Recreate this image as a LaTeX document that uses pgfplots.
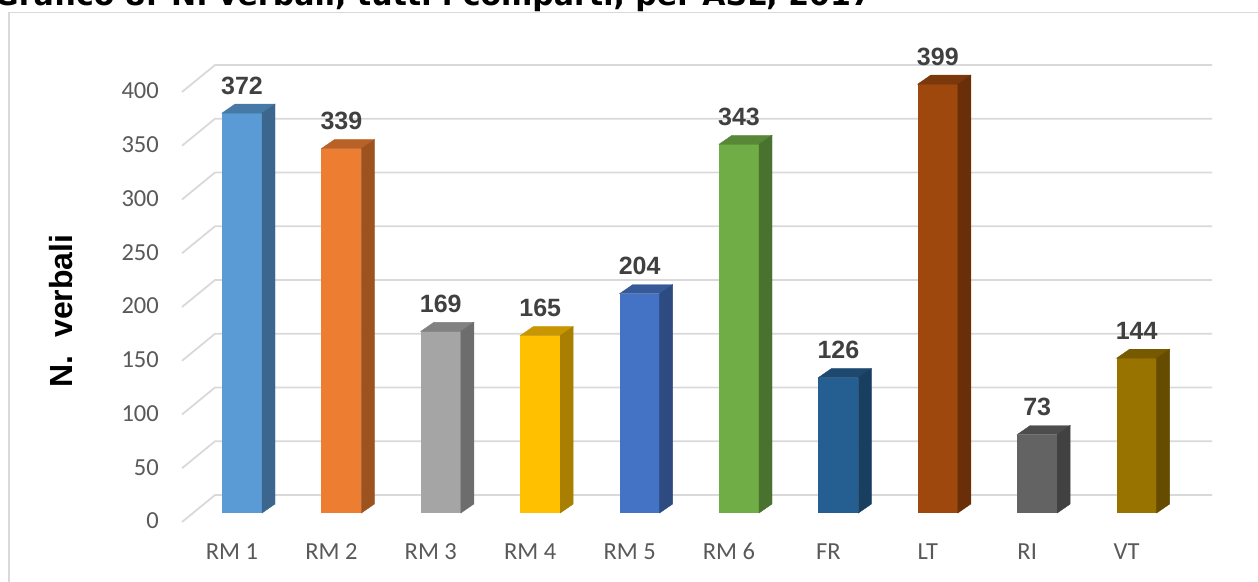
\documentclass[border=0pt]{standalone}
\usepackage{fontspec}
\setmainfont{Carlito}
\newfontfamily\lsans{Liberation Sans}
\newfontfamily\dejavu{DejaVu Sans}
\usepackage{pgfplots}
\pgfplotsset{compat=1.18}
\definecolor{gridc}{HTML}{D9D9D9}
\definecolor{tickc}{HTML}{595959}
\definecolor{labc}{HTML}{404040}
\definecolor{cA}{HTML}{5B9BD5}
\definecolor{cB}{HTML}{ED7D31}
\definecolor{cC}{HTML}{A5A5A5}
\definecolor{cD}{HTML}{FFC000}
\definecolor{cE}{HTML}{4472C4}
\definecolor{cF}{HTML}{70AD47}
\definecolor{cG}{HTML}{255E91}
\definecolor{cH}{HTML}{9E480E}
\definecolor{cI}{HTML}{636363}
\definecolor{cJ}{HTML}{997300}

\newcommand{\threedbar}[3]{%
  \addplot[scatter, only marks, mark=*, mark size=0pt,
    visualization depends on={rawy \as \barv},
    scatter/@pre marker code/.code={%
      \pgfmathsetmacro\hh{1.075*\barv}%
      \fill[#3!78!black] (-20pt,0pt) -- (20pt,0pt) -- (33pt,9pt) -- (-7pt,9pt) -- cycle;
      \fill[#3!66!black] (20pt,0pt) -- (33pt,9pt) -- (33pt,9pt-\hh pt) -- (20pt,-\hh pt) -- cycle;
      \begin{scope}[draw=none,fill=none]},
    scatter/@post marker code/.code={\end{scope}}]
    coordinates {(#1,#2)};
  \addplot[ybar, bar width=40pt, bar shift=0pt, fill=#3, draw=none,
    nodes near coords,
    every node near coord/.append style={font=\lsans\bfseries\fontsize{25}{28}\selectfont,
      text=labc, anchor=base, inner sep=0pt, yshift=19pt}]
    coordinates {(#1,#2)};
}

\begin{document}
\begin{tikzpicture}
\useasboundingbox (0pt,0pt) rectangle (1258pt,-581pt);
% chart frame
\draw[gridc, line width=1.5pt] (9pt,-12.5pt) rectangle (1275pt,-600pt);
% title (cut at the top as in the original)
\node[anchor=base west, inner sep=0pt, font=\dejavu\bfseries\fontsize{30}{33}\selectfont]
  at (-6pt,-5pt) {Grafico 8. N. verbali, tutti i comparti, per ASL, 2017};
% 3D back-wall gridlines
\foreach \v in {0,50,...,400} {
  \pgfmathsetmacro\yb{-495+1.075*\v}
  \pgfmathsetmacro\yf{-522+1.075*\v}
  \draw[gridc, line width=1.8pt] (182pt,\yf pt) -- (215pt,\yb pt) -- (1212pt,\yb pt);
}
% axis title
\node[rotate=90, font=\lsans\bfseries\fontsize{32}{36}\selectfont] at (61pt,-311pt) {N.\ \ verbali};
\begin{axis}[
  at={(242pt,-513pt)}, anchor=origin,
  x=99.4pt, y=1.075pt,
  xmin=-0.6036, xmax=9.43, ymin=0, ymax=400,
  clip=false,
  axis line style={draw=none},
  major tick length=0pt,
  ytick={0,50,...,400},
  xtick={0,...,9},
  xticklabels={RM 1,RM 2,RM 3,RM 4,RM 5,RM 6,FR,LT,RI,VT},
  /pgf/number format/assume math mode=true,
  tick label style={font=\fontsize{24.5}{27}\selectfont, text=tickc},
  yticklabel style={anchor=east, inner sep=0pt, xshift=-23pt, yshift=-8pt},
  xticklabel style={anchor=base, inner sep=0pt, xshift=-10pt, yshift=-46pt},
]
\threedbar{0}{372}{cA}
\threedbar{1}{339}{cB}
\threedbar{2}{169}{cC}
\threedbar{3}{165}{cD}
\threedbar{4}{204}{cE}
\threedbar{5}{343}{cF}
\threedbar{6}{126}{cG}
\threedbar{7}{399}{cH}
\threedbar{8}{73}{cI}
\threedbar{9}{144}{cJ}
\end{axis}
\end{tikzpicture}
\end{document}
